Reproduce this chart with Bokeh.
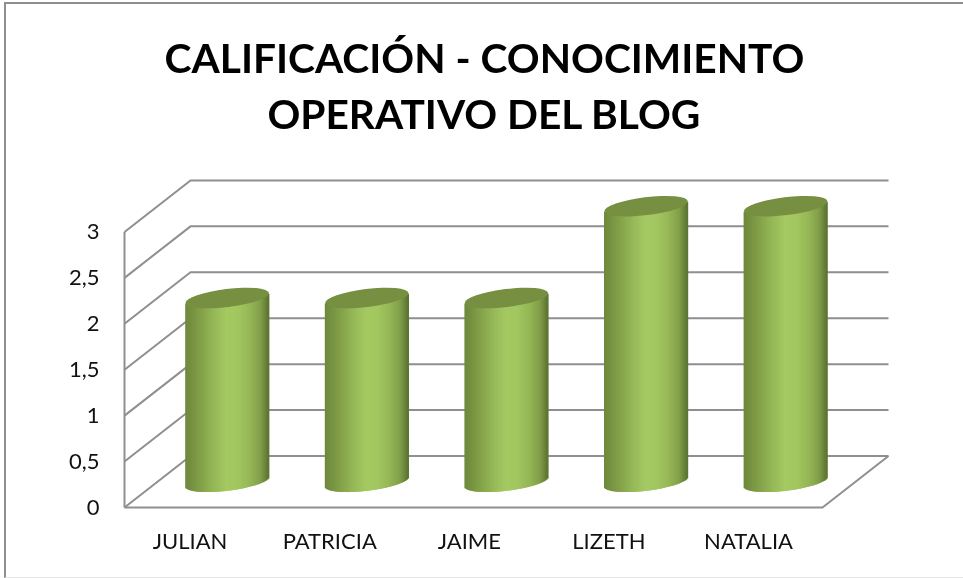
import numpy as np
from bokeh.plotting import figure
from bokeh.models import ColumnDataSource, FixedTicker, Label
from bokeh.embed import file_html
from bokeh.resources import INLINE

categories = ["JULIAN", "PATRICIA", "JAIME", "LIZETH", "NATALIA"]
values = [2, 2, 2, 3, 3]
y_ticks = [0, 0.5, 1, 1.5, 2, 2.5, 3]
y_tick_labels = ["0", "0,5", "1", "1,5", "2", "2,5", "3"]
title_lines = ["CALIFICACIÓN - CONOCIMIENTO", "OPERATIVO DEL BLOG"]

OX, OY = 6, 4
W, H = 963 - OX, 577 - OY
F_L, F_R, F_T, F_B = 120, 894, 10, 513
px_x = (822 - 124) / 5
px_y = (507 - 180) / 3.56
depth_x = 66 / px_x
depth_y = 51.5 / px_y
GRID = "#8f8f8f"

p = figure(width=W, height=H, output_backend="svg", toolbar_location=None,
           x_range=((F_L - 124) / px_x, (F_R - 124) / px_x),
           y_range=((507 - F_B) / px_y, (507 - F_T) / px_y),
           min_border_left=F_L - OX, min_border_right=W - (F_R - OX) + 2,
           min_border_top=F_T - OY, min_border_bottom=H - (F_B - OY) + 3,
           styles={"position": "fixed", "left": "4px", "top": "2px",
                   "border-left": "2px solid #8f8f8f", "border-top": "2px solid #8f8f8f",
                   "border-bottom": "1px solid #e6e6e6", "box-sizing": "content-box"})
p.outline_line_color = None
p.grid.visible = False
p.background_fill_color = "white"

ax = p.yaxis[0]
ax.ticker = FixedTicker(ticks=y_ticks)
ax.major_label_overrides = {t: l for t, l in zip(y_ticks, y_tick_labels)}
ax.axis_line_color = None
ax.major_tick_line_color = None
ax.minor_tick_line_color = None
ax.major_label_text_font = "Lato"
ax.major_label_text_font_size = "22px"
ax.major_label_text_color = "#111111"
ax.major_label_standoff = 15

bx = p.xaxis[0]
xt = [i + 0.47 for i in range(len(categories))]
bx.ticker = FixedTicker(ticks=xt)
bx.major_label_overrides = {t: c for t, c in zip(xt, categories)}
bx.axis_line_color = None
bx.major_tick_line_color = None
bx.minor_tick_line_color = None
bx.major_label_text_font = "Lato"
bx.major_label_text_font_size = "22px"
bx.major_label_text_color = "#111111"
bx.major_label_standoff = 7

n = len(categories)
for t in y_ticks:
    p.line([0, depth_x, n + depth_x], [t, t + depth_y, t + depth_y], line_color=GRID, line_width=2)
p.line([0, 0], [0, y_ticks[-1]], line_color=GRID, line_width=2)
p.line([0, n, n + depth_x], [0, 0, depth_y], line_color=GRID, line_width=2)

a, b = 42.0, 9.0
theta = np.deg2rad(7.0)
st, ct = np.sin(theta), np.cos(theta)
stops_pos = [-1.0, -0.9, -0.6, -0.3, 0.0, 0.25, 0.55, 0.8, 0.93, 1.0]
stops_rgb = np.array([[0x6e, 0x88, 0x3c], [0x72, 0x8d, 0x3e], [0x84, 0xa2, 0x49], [0x96, 0xb8, 0x58],
                      [0xa5, 0xc9, 0x62], [0xa3, 0xc7, 0x60], [0x96, 0xb7, 0x56], [0x82, 0x9f, 0x49],
                      [0x68, 0x82, 0x3a], [0x58, 0x70, 0x30]])
sx = np.arange(-a + 1.0, a - 0.5, 1.0)
A = st**2 / a**2 + ct**2 / b**2
B = 2 * sx * st * ct * (1 / a**2 - 1 / b**2)
C = sx**2 * (ct**2 / a**2 + st**2 / b**2) - 1
lower = (-B - np.sqrt(np.maximum(B**2 - 4 * A * C, 0))) / (2 * A)
cols = []
for f in sx / a:
    cols.append("#%02x%02x%02x" % tuple(int(round(np.interp(f, stops_pos, stops_rgb[:, k]))) for k in range(3)))

sxs, tops, bots, colors = [], [], [], []
cx = [i + 0.5 + depth_x / 2 for i in range(n)]
for c, v in zip(cx, values):
    base = depth_y / 2
    sxs += list(c + sx / px_x)
    bots += list(base + lower / px_y)
    tops += list(base + v + lower / px_y + 1 / px_y)
    colors += cols
p.vbar(x="x", top="t", bottom="b", width=2.2 / px_x, fill_color="c", line_color=None,
       source=ColumnDataSource(dict(x=sxs, t=tops, b=bots, c=colors)))
p.ellipse(x=cx, y=[depth_y / 2 + v for v in values], width=2 * a / px_x, height=2 * b / px_y, angle=theta,
          fill_color="#768f40", line_color=None)

for line, py in zip(title_lines, [57, 113]):
    p.add_layout(Label(x=(484 - 124) / px_x, y=(507 - py) / px_y, text=line, text_align="center",
                       text_baseline="middle", text_font="Lato", text_font_style="bold",
                       text_font_size="40.7px", text_color="#000000"))

open("out.html", "w").write(file_html(p, INLINE))
